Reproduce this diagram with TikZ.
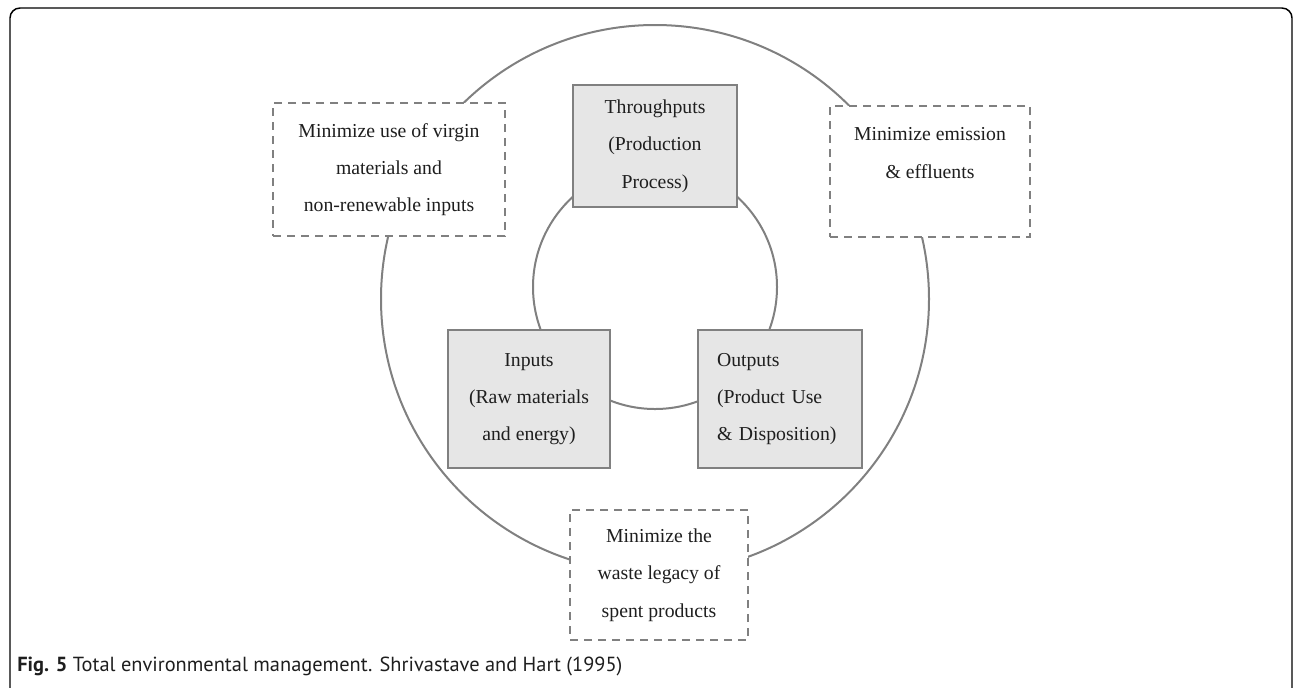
\documentclass[tikz,border=0pt]{standalone}
\usepackage{fontspec}
\setmainfont{Liberation Serif}
\newfontfamily\capfont{PT Sans}
\usetikzlibrary{positioning}
\definecolor{boxgray}{RGB}{230,230,230}
\definecolor{linegray}{RGB}{128,128,128}
\definecolor{txtgray}{RGB}{30,30,30}

\begin{document}
\begin{tikzpicture}[x=0.75pt,y=-0.75pt]
  % Settings
  \tikzset{
    stage/.style={draw=linegray, fill=boxgray, line width=1.8pt, align=center, inner sep=0pt, text=txtgray, font=\fontsize{14.8}{28}\selectfont},
    goal/.style={draw=linegray, fill=white, line width=1.6pt, dash pattern=on 6pt off 4.5pt, align=center, inner sep=0pt, text=txtgray, font=\fontsize{14.8}{28}\selectfont},
    ring/.style={draw=linegray, line width=1.5pt, shape=circle, inner sep=0pt},
  }
  \useasboundingbox (0,0) rectangle (1293,687);
  \clip (0,0) rectangle (1293,687);
  % Frame
  \draw[line width=1.1pt, rounded corners=7.5pt] (10,720) -- (10,8) -- (1292,8) -- (1292,720);
  % Rings
  \node[ring, minimum size=411pt] (outer) at (655,299) {};
  \node[ring, minimum size=183pt] (inner) at (655,287) {};
  % Stages
  \node[stage, minimum width=123pt, minimum height=91.5pt] (thru) at (655,146) {Throughputs\\(Production\\Process)};
  \node[stage, minimum width=121.5pt, minimum height=103.5pt] (inputs) at (529,399) {Inputs\\(Raw materials\\and energy)};
  \node[stage, align=left, text width=94.5pt, inner xsep=14.25pt, minimum height=103.5pt] (outputs) at (780,399) {Outputs\\(Product Use\\\& Disposition)};
  % Goals
  \node[goal, minimum width=174pt, minimum height=99.75pt] (virgin) at (389,169.5) {Minimize use of virgin\\materials and\\non-renewable inputs};
  \node[goal, minimum width=150pt, minimum height=98.25pt] (emission) at (930,171.5) {Minimize emission\\\& effluents\\\mbox{}};
  \node[goal, minimum width=133.5pt, minimum height=97.5pt] (waste) at (659,575) {Minimize the\\waste legacy of\\spent products};
  % Caption
  \node[anchor=base west, inner sep=0pt, text=txtgray, font=\capfont\fontsize{15.3}{17}\selectfont] (caption) at (17,671) {\textbf{Fig. 5} Total environmental management. Shrivastave and Hart (1995)};
\end{tikzpicture}
\end{document}
